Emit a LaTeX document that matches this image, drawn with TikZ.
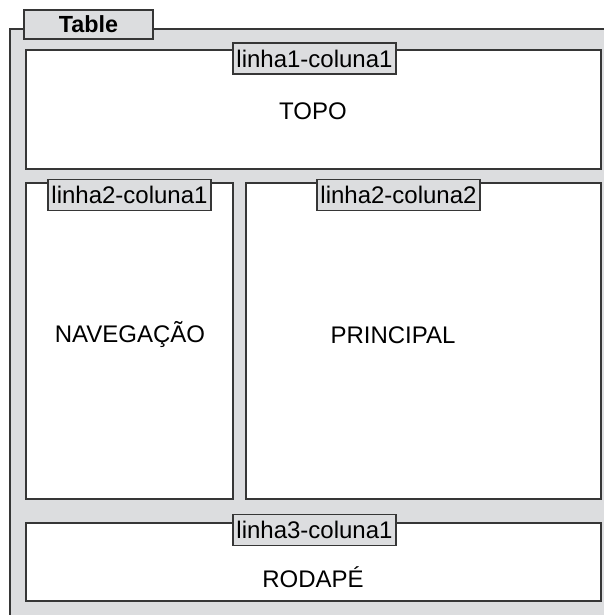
\documentclass[tikz,border=0pt]{standalone}
\usepackage{fontspec}
\setmainfont{Liberation Sans}
\definecolor{framegray}{HTML}{DCDDDF}
\definecolor{edgegray}{HTML}{363636}

\begin{document}
\begin{tikzpicture}[x=0.75pt, y=-0.75pt,
  cell/.style={draw=edgegray, line width=1.3pt, fill=white, rectangle, inner sep=0pt},
  tag/.style={draw=edgegray, line width=1.1pt, fill=framegray, rectangle, inner sep=1pt,
    font=\fontsize{18}{20}\selectfont, minimum width=122.25pt, minimum height=23.25pt},
  area/.style={font=\fontsize{18}{20}\selectfont}]
  \useasboundingbox (0,0) rectangle (604,615);
  % table frame
  \fill[framegray] (10,29) rectangle (604,615);
  \draw[edgegray, line width=1.3pt] (10,615) -- (10,29) -- (604,29);
  \node[tag, font=\bfseries\fontsize{17.5}{20}\selectfont, minimum width=96.75pt, minimum height=21.75pt] (table) at (88.5,24.5) {Table};
  % cells
  \node[cell, minimum width=431.25pt, minimum height=89.25pt] (topo) at (313.5,109.5) {};
  \node[cell, minimum width=155.25pt, minimum height=237pt] (nav) at (129.5,341) {};
  \node[cell, minimum width=266.25pt, minimum height=237pt] (principal) at (423.5,341) {};
  \node[cell, minimum width=431.25pt, minimum height=58.5pt] (rodape) at (313.5,562) {};
  % tags
  \node[tag] (l1c1) at (314.5,58.5) {linha1-coluna1};
  \node[tag] (l2c1) at (129.5,195) {linha2-coluna1};
  \node[tag] (l2c2) at (398.5,195) {linha2-coluna2};
  \node[tag] (l3c1) at (314.5,530) {linha3-coluna1};
  % texts
  \node[area] (topotext) at (313,111) {TOPO};
  \node[area] (navtext) at (130,335) {NAVEGAÇÃO};
  \node[area] (princtext) at (393,335) {PRINCIPAL};
  \node[area] (rodtext) at (313,577) {RODAPÉ};
\end{tikzpicture}
\end{document}
